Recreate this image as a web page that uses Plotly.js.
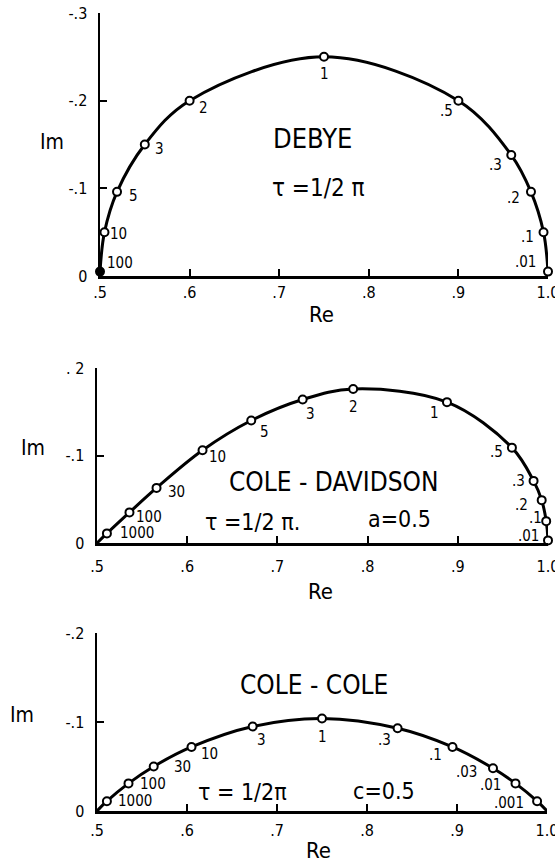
<!DOCTYPE html>
<html>
<head>
<meta charset="utf-8">
<script src="https://cdn.plot.ly/plotly-3.0.1.min.js"></script>
<style>
  html, body { margin: 0; padding: 0; background: #fff; }
  #plot { width: 555px; height: 861px; }
</style>
</head>
<body>
<div id="plot"></div>
<script>
// Complex permittivity loci (Re vs Im), tau = 1/2pi, so the point labels are frequencies f.
const epsInf = 0.5;      // high-frequency limit on the Re axis
const epsStatic = 1.0;   // low-frequency limit on the Re axis

// Debye relaxation
const debyeFreq = ['100', '10', '5', '3', '2', '1', '.5', '.3', '.2', '.1', '.01'];
const debyeRe = [0.500, 0.505, 0.519, 0.550, 0.600, 0.750, 0.900, 0.959, 0.981, 0.995, 1.000];
const debyeIm = [-0.005, -0.050, -0.096, -0.150, -0.200, -0.250, -0.200, -0.138, -0.096, -0.050, -0.005];

// Cole-Davidson relaxation, a = 0.5
const cdFreq = ['1000', '100', '30', '10', '5', '3', '2', '1', '.5', '.3', '.2', '.1', '.01'];
const cdRe = [0.511, 0.536, 0.566, 0.617, 0.671, 0.728, 0.784, 0.888, 0.960, 0.984, 0.993, 0.998, 1.000];
const cdIm = [-0.011, -0.035, -0.063, -0.106, -0.140, -0.164, -0.176, -0.161, -0.109, -0.071, -0.049, -0.025, -0.003];

// Cole-Cole relaxation, c = 0.5
const ccFreq = ['1000', '100', '30', '10', '3', '1', '.3', '.1', '.03', '.01', '.001'];
const ccRe = [0.511, 0.535, 0.563, 0.605, 0.673, 0.750, 0.834, 0.895, 0.940, 0.965, 0.989];
const ccIm = [-0.011, -0.031, -0.050, -0.072, -0.095, -0.104, -0.093, -0.072, -0.048, -0.031, -0.011];

// Axis ticks
const xTickVals = [0.5, 0.6, 0.7, 0.8, 0.9, 1.0];
const xTickText = ['.5', '.6', '.7', '.8', '.9', '1.0'];
const yTickVals1 = [0, -0.1, -0.2, -0.3];
const yTickText1 = ['0', '-.1', '-.2', '-.3'];
const yTickVals2 = [0, -0.1, -0.2];
const yTickText2 = ['0', '-.1', '. 2'];
const yTickText3 = ['0', '-.1', '-.2'];

// Label placement for each point: [xshift, yshift (down)]
const debyeLabelPos = [[20, -9], [14, 2], [16, 4], [15, 4], [14, 7], [0, 17], [-12, 10], [-16, 10], [-17, 6], [-16, 5], [-23, -10]];
const cdLabelPos = [[30, 0], [20, 5], [20, 4], [15, 7], [13, 11], [8, 14], [0, 18], [-12, 11], [-15, 4], [-15, 0], [-20, 5], [-11, -3], [-20, -4]];
const ccLabelPos = [[28, 0], [24, 1], [29, 0], [18, 7], [9, 14], [0, 19], [-13, 12], [-17, 8], [-27, 4], [-25, 2], [-28, 2]];

const FONT = 'DejaVu Sans Condensed, DejaVu Sans, sans-serif';
const W = 555, H = 861;
const px = (x) => x / W;
const py = (y) => 1 - y / H;

function curveTrace(re, im, xa, ya, closeEnds) {
  const x = closeEnds ? [epsInf].concat(re, [epsStatic]) : re.slice();
  const y = closeEnds ? [0].concat(im, [0]) : im.slice();
  return {
    type: 'scatter', mode: 'lines', x: x, y: y, xaxis: xa, yaxis: ya,
    line: { color: '#000', width: 3, shape: 'spline', smoothing: 1.0 },
    hoverinfo: 'skip', cliponaxis: false
  };
}

function markerTrace(re, im, labels, xa, ya, filledLabel) {
  return {
    type: 'scatter', mode: 'markers', x: re, y: im, xaxis: xa, yaxis: ya,
    text: labels, cliponaxis: false,
    marker: {
      size: 8,
      color: labels.map(l => l === filledLabel ? '#000' : '#fff'),
      line: { color: '#000', width: 2 }
    }
  };
}

function pointLabels(re, im, labels, pos, xa, ya) {
  return labels.map((t, i) => ({
    xref: xa, yref: ya, x: re[i], y: im[i], text: t, showarrow: false,
    xshift: pos[i][0], yshift: -pos[i][1],
    font: { family: FONT, size: 15, color: '#000' }
  }));
}

const traces = [
  curveTrace(debyeRe, debyeIm, 'x', 'y', false),
  markerTrace(debyeRe, debyeIm, debyeFreq, 'x', 'y', '100'),
  curveTrace(cdRe, cdIm, 'x2', 'y2', true),
  markerTrace(cdRe, cdIm, cdFreq, 'x2', 'y2', null),
  curveTrace(ccRe, ccIm, 'x3', 'y3', true),
  markerTrace(ccRe, ccIm, ccFreq, 'x3', 'y3', null)
];

function xAxis(domain, anchor, standoff) {
  return {
    domain: domain, anchor: anchor, range: [0.5, 1.0],
    tickvals: xTickVals, ticktext: xTickText,
    ticks: 'inside', ticklen: 7, tickwidth: 2, tickcolor: '#000',
    showline: true, linewidth: 2.5, linecolor: '#000',
    showgrid: false, zeroline: false,
    ticklabelstandoff: standoff, ticklabeloverflow: 'allow',
    tickfont: { family: FONT, size: 16, color: '#000' },
    fixedrange: true
  };
}

function yAxis(domain, anchor, top, vals, text) {
  return {
    domain: domain, anchor: anchor, range: [0, top],
    tickvals: vals, ticktext: text,
    ticks: 'inside', ticklen: 7, tickwidth: 2, tickcolor: '#000',
    showline: true, linewidth: 2.5, linecolor: '#000',
    showgrid: false, zeroline: false,
    ticklabelstandoff: 7, ticklabeloverflow: 'allow',
    tickfont: { family: FONT, size: 16, color: '#000' },
    fixedrange: true
  };
}

function txt(x, y, text, size) {
  return {
    xref: 'paper', yref: 'paper', x: px(x), y: py(y), text: text,
    showarrow: false, xanchor: 'center', yanchor: 'middle',
    font: { family: FONT, size: size, color: '#000' }
  };
}

const annotations = []
  .concat(pointLabels(debyeRe, debyeIm, debyeFreq, debyeLabelPos, 'x', 'y'))
  .concat(pointLabels(cdRe, cdIm, cdFreq, cdLabelPos, 'x2', 'y2'))
  .concat(pointLabels(ccRe, ccIm, ccFreq, ccLabelPos, 'x3', 'y3'))
  .concat([
    // Debye panel
    txt(52, 142, 'Im', 21), txt(321, 314, 'Re', 22),
    txt(312, 138, 'DEBYE', 27), txt(318, 188, 'τ =1/2 π', 24),
    // Cole-Davidson panel
    txt(33, 448, 'Im', 21), txt(320, 591, 'Re', 22),
    txt(333, 482, 'COLE - DAVIDSON', 26),
    txt(252, 522, 'τ =1/2 π.', 23), txt(399, 519, 'a=0.5', 23),
    // Cole-Cole panel
    txt(22, 715, 'Im', 21), txt(318, 850, 'Re', 22),
    txt(314, 685, 'COLE - COLE', 26),
    txt(242, 792, 'τ = 1/2π', 23), txt(384, 791, 'c=0.5', 23)
  ]);

const layout = {
  width: W, height: H,
  margin: { l: 0, r: 0, t: 0, b: 0 },
  paper_bgcolor: '#fff', plot_bgcolor: 'rgba(0,0,0,0)',
  showlegend: false,
  xaxis: xAxis([px(100), px(548)], 'y', 0),
  yaxis: yAxis([py(276), py(13)], 'x', -0.3, yTickVals1, yTickText1),
  xaxis2: xAxis([px(97), px(548)], 'y2', 7),
  yaxis2: yAxis([py(543), py(368)], 'x2', -0.2, yTickVals2, yTickText2),
  xaxis3: xAxis([px(97), px(547)], 'y3', 3),
  yaxis3: yAxis([py(811), py(633)], 'x3', -0.2, yTickVals2, yTickText3),
  annotations: annotations
};

Plotly.newPlot('plot', traces, layout, { staticPlot: true, displayModeBar: false });
</script>
</body>
</html>
